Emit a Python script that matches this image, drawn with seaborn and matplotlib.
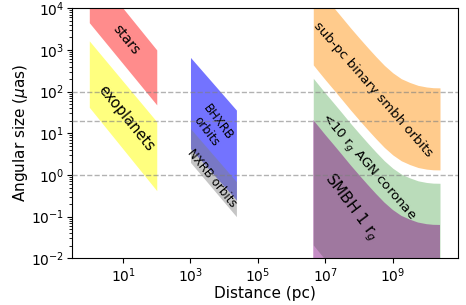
import numpy as np
import pandas as pd
import seaborn as sns
import matplotlib.pyplot as plt

# band edges (distance in pc, angular size in micro-arcsec)
stars_x = [1, 100]
stars_lo = [4500, 48]
stars_hi = [1e5, 1e3]

exo_x = [1, 100]
exo_lo = [42, 0.42]
exo_hi = [1650, 19]

bhxrb_x = [1e3, 2.3e4]
bhxrb_lo = [4.3, 0.25]
bhxrb_hi = [660, 36]

nxrb_x = [1e3, 2.3e4]
nxrb_lo = [2.0, 0.1]
nxrb_hi = [13, 0.69]

smbh_x = [4.37e6, 6.3e6, 1e7, 1.78e7, 3.16e7, 5.6e7, 1e8, 1.78e8, 3.16e8,
          5.6e8, 1e9, 1.78e9, 3.16e9, 5.6e9, 1e10, 1.58e10, 2.5e10]
binary_hi = [40800, 28200, 17800, 10300, 5880, 3360, 1950, 1150, 690,
             426, 282, 204, 166, 141, 129, 124, 123]
binary_lo = [437, 302, 191, 110, 63, 36, 20.9, 12.3, 7.4,
             4.57, 3.02, 2.19, 1.78, 1.51, 1.38, 1.33, 1.32]
corona_hi = [209, 145, 91.5, 52.7, 30.2, 17.2, 10.0, 5.89, 3.54,
             2.19, 1.45, 1.05, 0.853, 0.723, 0.661, 0.637, 0.632]
corona_lo = [0.0209, 0.0145, 0.00915, 0.00527, 0.00302, 0.00172, 0.001, 5.9e-4, 3.5e-4,
             2.2e-4, 1.45e-4, 1.05e-4, 8.5e-5, 7.2e-5, 6.6e-5, 6.4e-5, 6.3e-5]
rg_hi = [20.9, 14.5, 9.15, 5.27, 3.02, 1.72, 1.0, 0.589, 0.354,
         0.219, 0.145, 0.105, 0.0853, 0.0723, 0.0661, 0.0637, 0.0632]
rg_lo = [2.1e-4, 1.45e-4, 9.2e-5, 5.3e-5, 3.0e-5, 1.7e-5, 1e-5, 5.9e-6, 3.5e-6,
         2.2e-6, 1.45e-6, 1.05e-6, 8.5e-7, 7.2e-7, 6.6e-7, 6.4e-7, 6.3e-7]

limits = [100, 20, 1]
x_ticks = [1e1, 1e3, 1e5, 1e7, 1e9]
y_ticks = [1e-2, 1e-1, 1e0, 1e1, 1e2, 1e3, 1e4]

sns.set_style('ticks', rc={'text.color': 'black', 'axes.labelcolor': 'black',
                           'xtick.color': 'black', 'ytick.color': 'black',
                           'axes.edgecolor': 'black'})
plt.rcParams['font.family'] = ['DejaVu Sans']

fig = plt.figure(figsize=(4.66, 3.05), dpi=100)
ax = fig.add_axes([0.154, 0.153, 0.828, 0.820])

ax.fill_between(stars_x, stars_lo, stars_hi, color='red', alpha=0.45, lw=0)
ax.fill_between(exo_x, exo_lo, exo_hi, color='yellow', alpha=0.5, lw=0)
ax.fill_between(bhxrb_x, bhxrb_lo, bhxrb_hi, color='blue', alpha=0.55, lw=0)
ax.fill_between(nxrb_x, nxrb_lo, nxrb_hi, color='gray', alpha=0.45, lw=0)
ax.fill_between(smbh_x, binary_lo, binary_hi, color='darkorange', alpha=0.45, lw=0)
ax.fill_between(smbh_x, corona_lo, corona_hi, color='green', alpha=0.27, lw=0)
ax.fill_between(smbh_x, rg_lo, rg_hi, color='purple', alpha=0.45, lw=0)

for y in limits:
    ax.axhline(y, color='gray', ls='--', lw=1, alpha=0.6, zorder=5)

ax.set_xscale('log')
ax.set_yscale('log')
ax.set_xticks(x_ticks)
ax.set_xticks([], minor=True)
ax.set_yticks(y_ticks)
ax.set_xlim(10**-0.52, 10**10.92)
ax.set_ylim(1e-2, 1e4)

ax.text(12.6, 1750, 'stars', rotation=-51, fontsize=10, ha='center', va='center')
ax.text(12.6, 23, 'exoplanets', rotation=-51, fontsize=10.5, ha='center', va='center')
ax.text(4.5e3, 14, 'BHXRB\norbits', rotation=-53, fontsize=8.5, ha='center', va='center')
ax.text(4.2e3, 0.85, 'NXRB orbits', rotation=-51, fontsize=8.5, ha='center', va='center')
ax.text(2.6e8, 115, 'sub-pc binary smbh orbits', rotation=-49, fontsize=9.5,
        ha='center', va='center')
ax.text(1.9e8, 1.55, '<10 r$_g$ AGN coronae', rotation=-49, fontsize=9.5,
        ha='center', va='center')
ax.text(5.9e7, 0.17, 'SMBH 1 r$_g$', rotation=-53, fontsize=11, ha='center', va='center')

ax.set_xlabel('Distance (pc)', fontsize=11, labelpad=1)
ax.set_ylabel(r'Angular size ($\mu$as)', fontsize=11, labelpad=1)
ax.tick_params(labelsize=10, pad=2)

fig.savefig('out.png', dpi=100)
